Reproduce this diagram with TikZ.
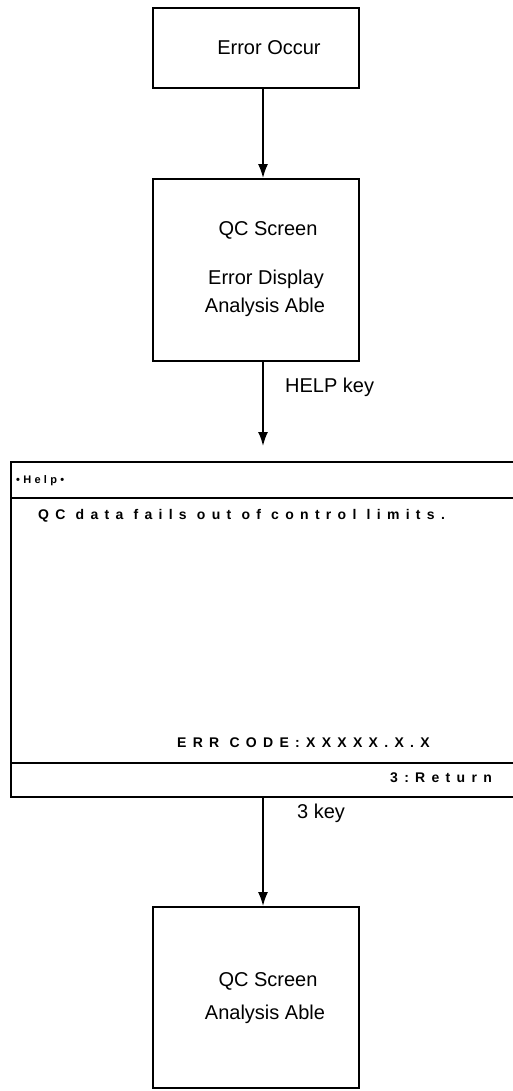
\documentclass[tikz,border=0pt]{standalone}
\usepackage{fontspec}
\setmainfont{Liberation Sans}
\usetikzlibrary{arrows.meta}
\begin{document}
\begin{tikzpicture}[x=1pt,y=-1pt,
  box/.style={draw, line width=1.8pt, minimum width=206pt, inner sep=0pt},
  lbl/.style={font=\fontsize{20}{24}\selectfont, inner sep=0pt},
  scr/.style={font=\fontsize{14}{16}\selectfont\bfseries\addfontfeatures{LetterSpace=45}, anchor=west, inner sep=0pt},
  frame/.style={line width=1.8pt},
  arr/.style={-{Latex[length=14pt,width=10pt]}, line width=1.8pt}]
\useasboundingbox (0,0) rectangle (512,1091);
% box 1
\node[box, minimum height=80pt] (b1) at (256,48) {};
\node[lbl] (t1) at (269,48) {Error Occur};
% box 2
\node[box, minimum height=182pt] (b2) at (256,270) {};
\node[lbl] (t2a) at (268,230) {QC Screen};
\node[lbl] (t2b) at (266,279) {Error Display};
\node[lbl] (t2c) at (265,307) {Analysis Able};
% help screen
\node[draw, frame, minimum width=519pt, minimum height=335pt, inner sep=0pt] (help) at (270.5,629.5) {};
\draw[frame] (help.west |- 0,498) -- (help.east |- 0,498);
\draw[frame] (help.west |- 0,763) -- (help.east |- 0,763);
\node[scr, font=\fontsize{11}{13}\selectfont\bfseries\addfontfeatures{LetterSpace=30}] (hh) at (16,481) {•Help•};
\node[scr] (msg) at (38,516) {QC data fails out of control limits.};
\node[scr] (err) at (177,743) {ERR CODE:XXXXX.X.X};
\node[scr] (ret) at (390,778) {3:Return};
% box 4
\node[box, minimum height=181pt] (b4) at (256,997.5) {};
\node[lbl] (t4a) at (268,981) {QC Screen};
\node[lbl] (t4b) at (265,1014) {Analysis Able};
% arrows
\coordinate (a1s) at (263,88);
\coordinate (a2end) at (263,446);
\draw[arr] (a1s) -- (a1s |- b2.north);
\draw[arr] (a1s |- b2.south) -- (a2end);
\node[lbl, anchor=west] (k1) at (285,387) {HELP key};
\draw[arr] (a1s |- help.south) -- (a1s |- b4.north);
\node[lbl, anchor=west] (k2) at (297,813) {3 key};
\end{tikzpicture}
\end{document}
